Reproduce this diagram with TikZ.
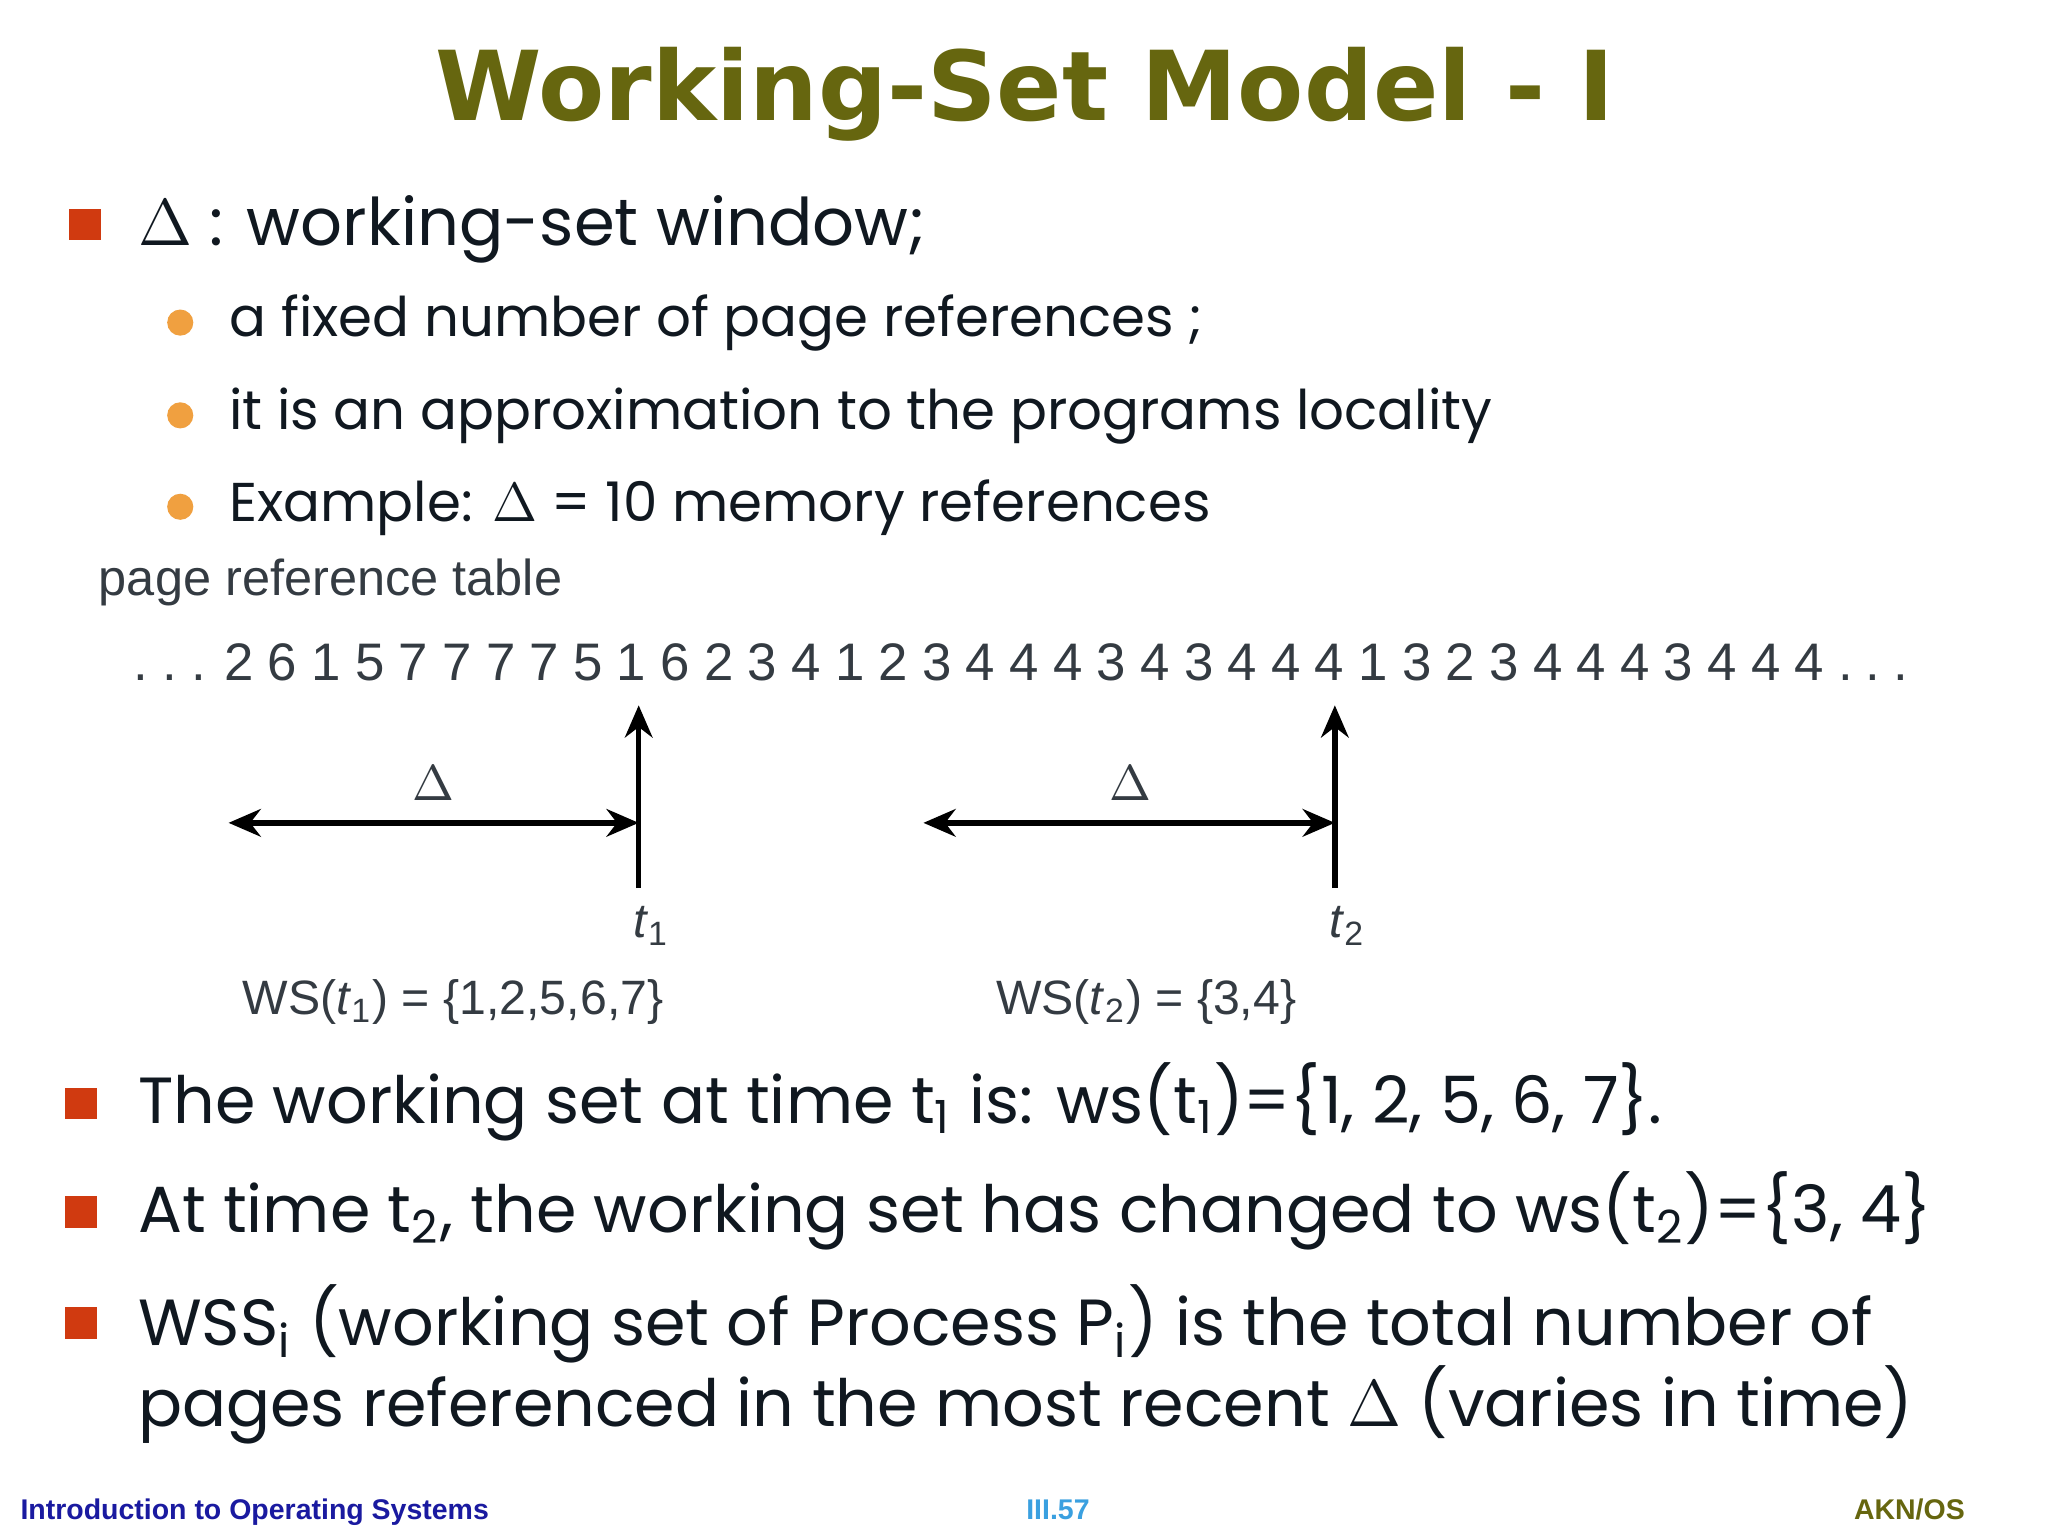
\documentclass[tikz,border=0pt]{standalone}
\usepackage{fontspec}
\setmainfont{Poppins}
\newfontfamily\arial{Liberation Sans}
\newfontfamily\titlef{DejaVu Sans}
\usetikzlibrary{arrows.meta}
\definecolor{olive}{HTML}{66660F}
\definecolor{sqred}{HTML}{D03A10}
\definecolor{dorange}{HTML}{F0A040}
\definecolor{txt}{HTML}{101820}
\definecolor{navy}{HTML}{1A1AA0}
\definecolor{lblue}{HTML}{3AA0E0}
\tikzset{
 sq/.style={fill=sqred,minimum size=0.24cm,inner sep=0},
 dot/.style={circle,fill=dorange,minimum size=0.2cm,inner sep=0},
 big/.style={anchor=base west,inner sep=0,text=txt,font=\fontsize{14.2}{18}\selectfont},
 sub/.style={anchor=base west,inner sep=0,text=txt,font=\fontsize{11.9}{15}\selectfont},
 fig/.style={anchor=base west,inner sep=0,text=txt!85,font=\arial\fontsize{10.5}{13}\selectfont},
 digit/.style={anchor=base,inner sep=0,text=txt!85,font=\arial\fontsize{11.5}{13}\selectfont},
 arr/.style={line width=1.2pt,-{Stealth[length=7pt,width=6pt]}},
}
\newcommand{\sbs}[1]{\textsubscript{#1}}
\begin{document}
\begin{tikzpicture}[x=0.01cm,y=-0.01cm]
\fill[white] (0,0) rectangle (1568,1176);
\node[font=\titlef\bfseries\fontsize{21}{24}\selectfont,text=olive] (title) at (785,72) {Working-Set Model - I};
\node[sq] (b1) at (65,172) {};
\node[big,font=\fontsize{14.3}{18}\selectfont] (l1) at (105,188) {$\Delta$ : working-set window;};
\node[dot] (d1) at (138,247) {};
\node[sub] (s1) at (175,258) {a fixed number of page references ;};
\node[dot] (d2) at (138,318) {};
\node[sub] (s2) at (175,329) {it is an approximation to the programs locality};
\node[dot] (d3) at (138,388) {};
\node[sub] (s3) at (175,399) {Example: $\Delta$ = 10 memory references};
\node[fig,font=\arial\fontsize{11}{13}\selectfont] (prt) at (75,456) {page reference table};
\foreach \d [count=\i] in {2,6,1,5,7,7,7,7,5,1,6,2,3,4,1,2,3,4,4,4,3,4,3,4,4,4,1,3,2,3,4,4,4,3,4,4,4}
  \node[digit] (n\i) at ({183+(\i-1)*33.4},521) {\d};
\foreach \x [count=\i] in {108,130,152,1413,1434,1455}
  \node[digit] (p\i) at (\x,521) {.};
\coordinate (t1b) at (489,680); \coordinate (t1t) at (489,540);
\coordinate (h1l) at (175,630); \coordinate (h1r) at (489,630);
\draw[arr] (t1b) -- (t1t);
\draw[arr,{Stealth[length=7pt,width=6pt]}-{Stealth[length=7pt,width=6pt]}] (h1l) -- (h1r);
\node[fig] (dl1) at (315,613) {$\Delta$};
\node[fig] (lt1) at (484,718) {\textit{t}\sbs{1}};
\node[fig] (ws1) at (185,777) {WS(\textit{t}\sbs{1}) = \{1,2,5,6,7\}};
\coordinate (t2b) at (1022,680); \coordinate (t2t) at (1022,540);
\coordinate (h2l) at (707,630); \coordinate (h2r) at (1022,630);
\draw[arr] (t2b) -- (t2t);
\draw[arr,{Stealth[length=7pt,width=6pt]}-{Stealth[length=7pt,width=6pt]}] (h2l) -- (h2r);
\node[fig] (dl2) at (849,613) {$\Delta$};
\node[fig] (lt2) at (1017,718) {\textit{t}\sbs{2}};
\node[fig] (ws2) at (762,777) {WS(\textit{t}\sbs{2}) = \{3,4\}};
\node[sq] (b2) at (62,845) {};
\node[big] (m1) at (105,860) {The working set at time t\sbs{1} is: ws(t\sbs{1})=\{1, 2, 5, 6, 7\}.};
\node[sq] (b3) at (62,928) {};
\node[big] (m2) at (105,944) {At time t\sbs{2}, the working set has changed to ws(t\sbs{2})=\{3, 4\}};
\node[sq] (b4) at (62,1013) {};
\node[big] (m3) at (105,1030) {WSS\sbs{i} (working set of Process P\sbs{i}) is the total number of};
\node[big] (m4) at (105,1092) {pages referenced in the most recent $\Delta$ (varies in time)};
\node[anchor=base west,inner sep=0,text=navy,font=\arial\bfseries\fontsize{6.2}{7}\selectfont] (f1) at (15,1163) {Introduction to Operating Systems};
\node[anchor=base,inner sep=0,text=lblue,font=\arial\bfseries\fontsize{6.2}{7}\selectfont] (f2) at (810,1163) {III.57};
\node[anchor=base east,inner sep=0,text=olive,font=\arial\bfseries\fontsize{6.2}{7}\selectfont] (f3) at (1505,1163) {AKN/OS};
\end{tikzpicture}
\end{document}
